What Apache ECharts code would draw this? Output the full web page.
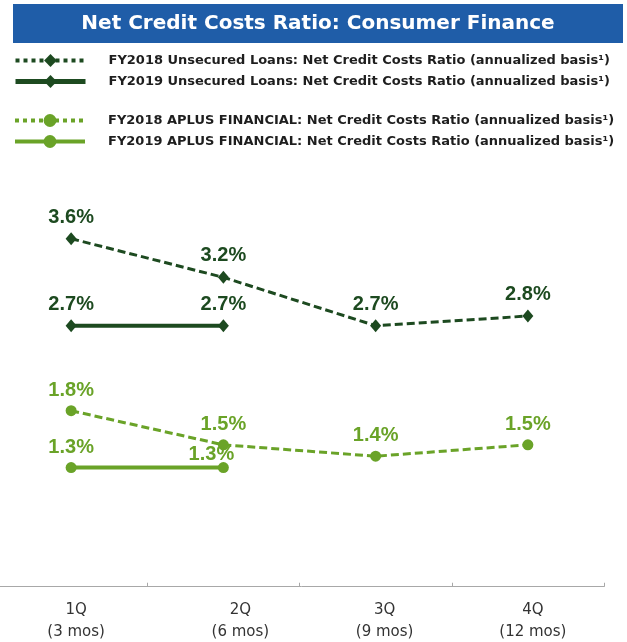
<!DOCTYPE html>
<html>
<head>
<meta charset="utf-8">
<script src="https://cdn.jsdelivr.net/npm/echarts@6/dist/echarts.min.js"></script>
<style>
  html, body { margin: 0; padding: 0; background: #ffffff; }
  #chart { width: 627px; height: 642px; }
</style>
</head>
<body>
<div id="chart"></div>
<script>
// Quarter categories on the x axis
const quarters = ['1Q\n(3 mos)', '2Q\n(6 mos)', '3Q\n(9 mos)', '4Q\n(12 mos)'];

// Net credit costs ratios (%), annualized basis
const unsecured2018 = [3.6, 3.2, 2.7, 2.8];
const unsecured2019 = [2.7, 2.7, null, null];
const aplus2018 = [1.8, 1.5, 1.4, 1.5];
const aplus2019 = [1.3, 1.3, null, null];

const seriesNames = [
  'FY2018 Unsecured Loans: Net Credit Costs Ratio (annualized basis\u00B9)',
  'FY2019 Unsecured Loans: Net Credit Costs Ratio (annualized basis\u00B9)',
  'FY2018 APLUS FINANCIAL: Net Credit Costs Ratio (annualized basis\u00B9)',
  'FY2019 APLUS FINANCIAL: Net Credit Costs Ratio (annualized basis\u00B9)'
];

const TITLE = 'Net Credit Costs Ratio: Consumer Finance';

const DARK = '#1d4a20';
const LIGHT = '#6aa328';
const FONT = '"DejaVu Sans", Verdana, sans-serif';
const LABEL_FONT = '"Liberation Sans", Arial, sans-serif';

const pct = p => (p.value == null ? '' : p.value.toFixed(1) + '%');

function lineSeries(name, values, axis, color, dashed, symbol, size) {
  return {
    name: name,
    type: 'line',
    yAxisIndex: axis,
    data: values,
    symbol: symbol,
    symbolSize: size,
    showAllSymbol: true,
    connectNulls: false,
    lineStyle: { color: color, width: dashed ? 3 : 4, type: dashed ? [8, 4] : 'solid' },
    itemStyle: { color: color },
    label: {
      show: true,
      position: 'top',
      distance: 5,
      formatter: pct,
      color: color,
      fontFamily: LABEL_FONT,
      fontWeight: 'bold',
      fontSize: 20
    },
    emphasis: { disabled: true },
    z: dashed ? 2 : 3
  };
}

const s1 = lineSeries(seriesNames[0], unsecured2018, 0, DARK, true, 'diamond', [11, 13]);
const s2 = lineSeries(seriesNames[1], unsecured2019, 0, DARK, false, 'diamond', [11, 13]);
const s3 = lineSeries(seriesNames[2], aplus2018, 1, LIGHT, true, 'circle', 11);
const s4 = lineSeries(seriesNames[3], aplus2019, 1, LIGHT, false, 'circle', 11);
// second FY2019 APLUS label sits a little lower and to the left
s4.data = aplus2019.map((v, i) => i === 1 ? { value: v, label: { offset: [-12, 7] } } : v);

const legendText = {
  color: '#1e1e1e',
  fontFamily: FONT,
  fontWeight: 'bold',
  fontSize: 13,
  padding: [0, 0, 0, 18]
};

function legendBlock(top, names, styles) {
  return {
    orient: 'vertical',
    left: 13,
    top: top,
    padding: 0,
    itemWidth: 70,
    itemHeight: 16,
    itemGap: 8,
    selectedMode: false,
    textStyle: legendText,
    data: names.map((n, i) => ({ name: n, lineStyle: styles[i].line, itemStyle: styles[i].item }))
  };
}

// quarter labels, nudged slightly right of each category centre
const labelShift = [10, 34, 18, 10];
const xData = quarters.map((q, i) => ({
  value: q,
  textStyle: { padding: [0, 0, 0, labelShift[i]] }
}));

const option = {
  animation: false,
  backgroundColor: '#ffffff',
  graphic: [
    {
      type: 'rect',
      shape: { x: 13, y: 4, width: 610, height: 39 },
      style: { fill: '#1f5da8' },
      silent: true,
      z: 10
    },
    {
      type: 'text',
      x: 318,
      y: 24,
      silent: true,
      z: 11,
      style: {
        text: TITLE,
        fill: '#ffffff',
        font: 'bold 20px ' + FONT,
        textAlign: 'center',
        textVerticalAlign: 'middle'
      }
    }
  ],
  legend: [
    legendBlock(54, [seriesNames[0], seriesNames[1]], [
      { line: { type: 'dotted', width: 4, color: DARK }, item: { color: DARK } },
      { line: { type: 'solid', width: 5, color: DARK }, item: { color: DARK } }
    ]),
    legendBlock(114, [seriesNames[2], seriesNames[3]], [
      { line: { type: 'dotted', width: 4, color: LIGHT }, item: { color: LIGHT } },
      { line: { type: 'solid', width: 4, color: LIGHT }, item: { color: LIGHT } }
    ])
  ],
  grid: {
    left: -5, right: 23, top: 200, bottom: 48,
    containLabel: false,
    outerBoundsMode: 'none'
  },
  xAxis: {
    type: 'category',
    data: xData,
    boundaryGap: true,
    axisLine: { lineStyle: { color: '#a8a8a8', width: 1 } },
    axisTick: { show: true, inside: true, length: 4, lineStyle: { color: '#a8a8a8' } },
    axisLabel: {
      color: '#333333',
      fontFamily: FONT,
      fontSize: 15,
      lineHeight: 22,
      margin: 5
    },
    splitLine: { show: false }
  },
  yAxis: [
    { type: 'value', min: -0.075, max: 4, show: false, splitLine: { show: false } },
    { type: 'value', min: 0.19, max: 3.65, show: false, splitLine: { show: false } }
  ],
  series: [s1, s2, s3, s4]
};

const chart = echarts.init(document.getElementById('chart'), null, { renderer: 'canvas' });
chart.setOption(option);
</script>
</body>
</html>
